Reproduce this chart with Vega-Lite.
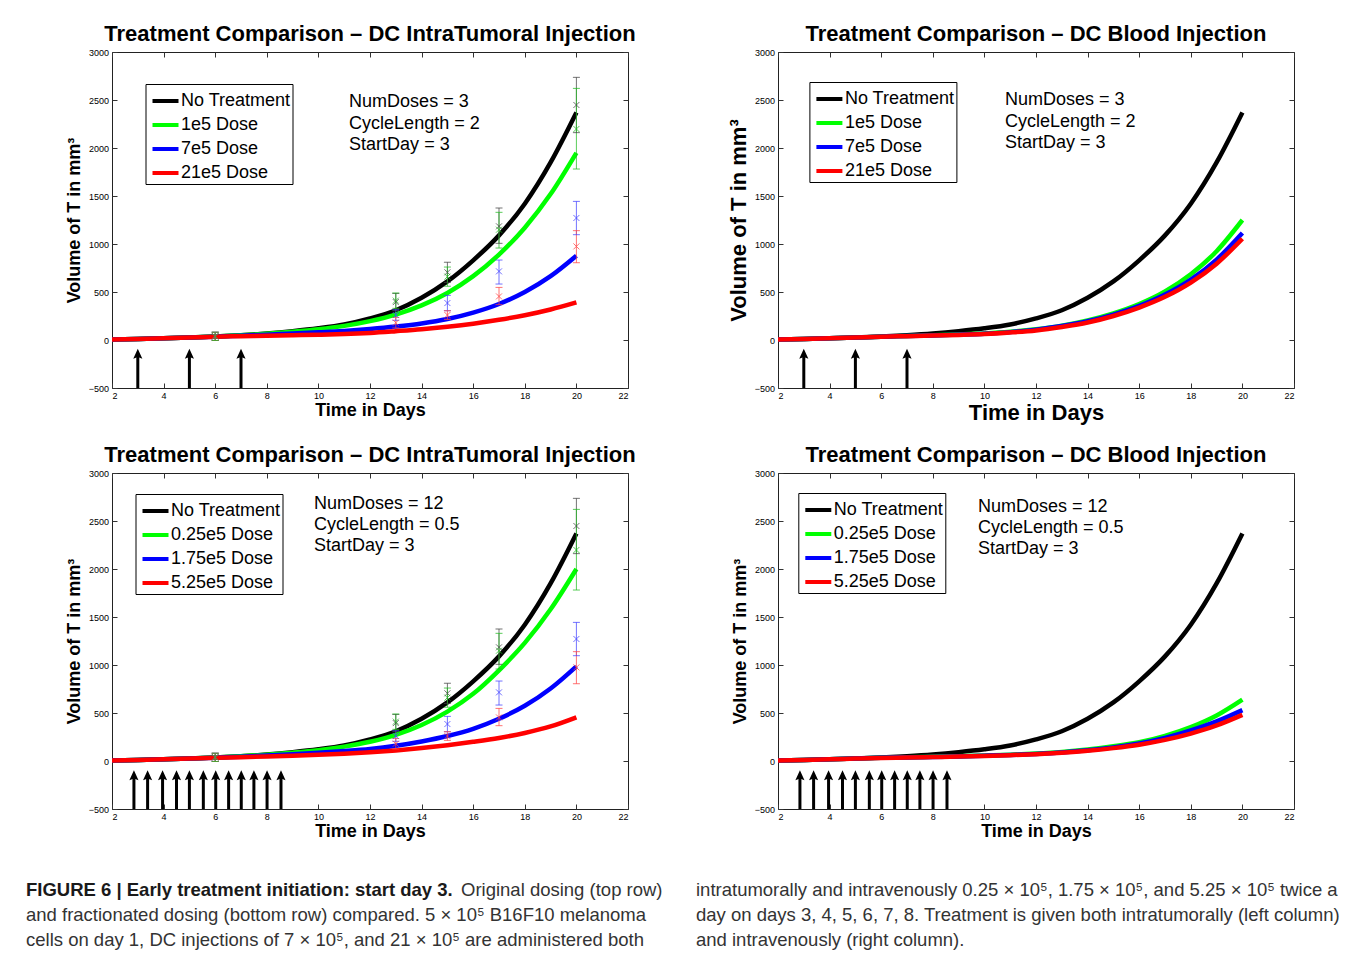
{
  "$schema": "https://vega.github.io/schema/vega-lite/v6.json",
  "background": "white",
  "autosize": {"type": "pad"},
  "padding": {"left": 26, "top": 22, "right": 0, "bottom": 0},
  "config": {
    "font": "Liberation Sans",
    "view": {"stroke": "#222222", "strokeWidth": 1},
    "axis": {"grid": false, "domain": false, "labelFont": "Liberation Sans", "labelFontSize": 9, "labelColor": "black", "tickColor": "#333333", "tickSize": -5, "labelPadding": 8.5, "titleFont": "Liberation Sans", "titleFontWeight": "bold", "titleColor": "black"},
    "title": {"font": "Liberation Sans", "fontSize": 22, "fontWeight": "bold", "color": "black", "anchor": "middle", "frame": "group", "offset": 2},
    "legend": {"labelFont": "Liberation Sans", "labelFontSize": 18, "labelColor": "black", "symbolType": "stroke", "symbolStrokeWidth": 4, "symbolSize": 676, "symbolOffset": 3, "labelOffset": 0.5, "padding": 2, "rowPadding": 0, "strokeColor": "black", "fillColor": "white", "orient": "none", "title": null}
  },
  "datasets": {
    "curves": [
      {"p":"TL","s":"No Treatment","d":2,"v":6},{"p":"TL","s":"No Treatment","d":3,"v":11},{"p":"TL","s":"No Treatment","d":4,"v":17},{"p":"TL","s":"No Treatment","d":5,"v":25},{"p":"TL","s":"No Treatment","d":6,"v":36},{"p":"TL","s":"No Treatment","d":7,"v":50},{"p":"TL","s":"No Treatment","d":8,"v":68},{"p":"TL","s":"No Treatment","d":9,"v":92},{"p":"TL","s":"No Treatment","d":10,"v":122},{"p":"TL","s":"No Treatment","d":11,"v":162},{"p":"TL","s":"No Treatment","d":12,"v":225},{"p":"TL","s":"No Treatment","d":13,"v":310},{"p":"TL","s":"No Treatment","d":14,"v":440},{"p":"TL","s":"No Treatment","d":15,"v":610},{"p":"TL","s":"No Treatment","d":16,"v":830},{"p":"TL","s":"No Treatment","d":17,"v":1090},{"p":"TL","s":"No Treatment","d":18,"v":1420},{"p":"TL","s":"No Treatment","d":19,"v":1850},{"p":"TL","s":"No Treatment","d":20,"v":2370},
      {"p":"TL","s":"1e5 Dose","d":2,"v":6},{"p":"TL","s":"1e5 Dose","d":3,"v":11},{"p":"TL","s":"1e5 Dose","d":4,"v":17},{"p":"TL","s":"1e5 Dose","d":5,"v":25},{"p":"TL","s":"1e5 Dose","d":6,"v":36},{"p":"TL","s":"1e5 Dose","d":7,"v":49},{"p":"TL","s":"1e5 Dose","d":8,"v":65},{"p":"TL","s":"1e5 Dose","d":9,"v":86},{"p":"TL","s":"1e5 Dose","d":10,"v":112},{"p":"TL","s":"1e5 Dose","d":11,"v":147},{"p":"TL","s":"1e5 Dose","d":12,"v":197},{"p":"TL","s":"1e5 Dose","d":13,"v":265},{"p":"TL","s":"1e5 Dose","d":14,"v":360},{"p":"TL","s":"1e5 Dose","d":15,"v":490},{"p":"TL","s":"1e5 Dose","d":16,"v":665},{"p":"TL","s":"1e5 Dose","d":17,"v":890},{"p":"TL","s":"1e5 Dose","d":18,"v":1170},{"p":"TL","s":"1e5 Dose","d":19,"v":1520},{"p":"TL","s":"1e5 Dose","d":20,"v":1950},
      {"p":"TL","s":"7e5 Dose","d":2,"v":6},{"p":"TL","s":"7e5 Dose","d":3,"v":11},{"p":"TL","s":"7e5 Dose","d":4,"v":17},{"p":"TL","s":"7e5 Dose","d":5,"v":25},{"p":"TL","s":"7e5 Dose","d":6,"v":35},{"p":"TL","s":"7e5 Dose","d":7,"v":45},{"p":"TL","s":"7e5 Dose","d":8,"v":56},{"p":"TL","s":"7e5 Dose","d":9,"v":67},{"p":"TL","s":"7e5 Dose","d":10,"v":80},{"p":"TL","s":"7e5 Dose","d":11,"v":95},{"p":"TL","s":"7e5 Dose","d":12,"v":115},{"p":"TL","s":"7e5 Dose","d":13,"v":140},{"p":"TL","s":"7e5 Dose","d":14,"v":172},{"p":"TL","s":"7e5 Dose","d":15,"v":218},{"p":"TL","s":"7e5 Dose","d":16,"v":285},{"p":"TL","s":"7e5 Dose","d":17,"v":375},{"p":"TL","s":"7e5 Dose","d":18,"v":500},{"p":"TL","s":"7e5 Dose","d":19,"v":665},{"p":"TL","s":"7e5 Dose","d":20,"v":878},
      {"p":"TL","s":"21e5 Dose","d":2,"v":6},{"p":"TL","s":"21e5 Dose","d":3,"v":11},{"p":"TL","s":"21e5 Dose","d":4,"v":17},{"p":"TL","s":"21e5 Dose","d":5,"v":25},{"p":"TL","s":"21e5 Dose","d":6,"v":35},{"p":"TL","s":"21e5 Dose","d":7,"v":40},{"p":"TL","s":"21e5 Dose","d":8,"v":45},{"p":"TL","s":"21e5 Dose","d":9,"v":50},{"p":"TL","s":"21e5 Dose","d":10,"v":55},{"p":"TL","s":"21e5 Dose","d":11,"v":62},{"p":"TL","s":"21e5 Dose","d":12,"v":74},{"p":"TL","s":"21e5 Dose","d":13,"v":92},{"p":"TL","s":"21e5 Dose","d":14,"v":112},{"p":"TL","s":"21e5 Dose","d":15,"v":138},{"p":"TL","s":"21e5 Dose","d":16,"v":170},{"p":"TL","s":"21e5 Dose","d":17,"v":210},{"p":"TL","s":"21e5 Dose","d":18,"v":258},{"p":"TL","s":"21e5 Dose","d":19,"v":318},{"p":"TL","s":"21e5 Dose","d":20,"v":392},
      {"p":"TR","s":"No Treatment","d":2,"v":6},{"p":"TR","s":"No Treatment","d":3,"v":11},{"p":"TR","s":"No Treatment","d":4,"v":17},{"p":"TR","s":"No Treatment","d":5,"v":25},{"p":"TR","s":"No Treatment","d":6,"v":36},{"p":"TR","s":"No Treatment","d":7,"v":50},{"p":"TR","s":"No Treatment","d":8,"v":68},{"p":"TR","s":"No Treatment","d":9,"v":92},{"p":"TR","s":"No Treatment","d":10,"v":122},{"p":"TR","s":"No Treatment","d":11,"v":162},{"p":"TR","s":"No Treatment","d":12,"v":225},{"p":"TR","s":"No Treatment","d":13,"v":310},{"p":"TR","s":"No Treatment","d":14,"v":440},{"p":"TR","s":"No Treatment","d":15,"v":610},{"p":"TR","s":"No Treatment","d":16,"v":830},{"p":"TR","s":"No Treatment","d":17,"v":1090},{"p":"TR","s":"No Treatment","d":18,"v":1420},{"p":"TR","s":"No Treatment","d":19,"v":1850},{"p":"TR","s":"No Treatment","d":20,"v":2370},
      {"p":"TR","s":"1e5 Dose","d":2,"v":6},{"p":"TR","s":"1e5 Dose","d":3,"v":11},{"p":"TR","s":"1e5 Dose","d":4,"v":17},{"p":"TR","s":"1e5 Dose","d":5,"v":25},{"p":"TR","s":"1e5 Dose","d":6,"v":35},{"p":"TR","s":"1e5 Dose","d":7,"v":42},{"p":"TR","s":"1e5 Dose","d":8,"v":50},{"p":"TR","s":"1e5 Dose","d":9,"v":58},{"p":"TR","s":"1e5 Dose","d":10,"v":68},{"p":"TR","s":"1e5 Dose","d":11,"v":85},{"p":"TR","s":"1e5 Dose","d":12,"v":112},{"p":"TR","s":"1e5 Dose","d":13,"v":150},{"p":"TR","s":"1e5 Dose","d":14,"v":205},{"p":"TR","s":"1e5 Dose","d":15,"v":278},{"p":"TR","s":"1e5 Dose","d":16,"v":375},{"p":"TR","s":"1e5 Dose","d":17,"v":506},{"p":"TR","s":"1e5 Dose","d":18,"v":685},{"p":"TR","s":"1e5 Dose","d":19,"v":925},{"p":"TR","s":"1e5 Dose","d":20,"v":1250},
      {"p":"TR","s":"7e5 Dose","d":2,"v":6},{"p":"TR","s":"7e5 Dose","d":3,"v":11},{"p":"TR","s":"7e5 Dose","d":4,"v":17},{"p":"TR","s":"7e5 Dose","d":5,"v":25},{"p":"TR","s":"7e5 Dose","d":6,"v":35},{"p":"TR","s":"7e5 Dose","d":7,"v":41},{"p":"TR","s":"7e5 Dose","d":8,"v":48},{"p":"TR","s":"7e5 Dose","d":9,"v":56},{"p":"TR","s":"7e5 Dose","d":10,"v":66},{"p":"TR","s":"7e5 Dose","d":11,"v":82},{"p":"TR","s":"7e5 Dose","d":12,"v":108},{"p":"TR","s":"7e5 Dose","d":13,"v":145},{"p":"TR","s":"7e5 Dose","d":14,"v":195},{"p":"TR","s":"7e5 Dose","d":15,"v":265},{"p":"TR","s":"7e5 Dose","d":16,"v":355},{"p":"TR","s":"7e5 Dose","d":17,"v":473},{"p":"TR","s":"7e5 Dose","d":18,"v":629},{"p":"TR","s":"7e5 Dose","d":19,"v":838},{"p":"TR","s":"7e5 Dose","d":20,"v":1115},
      {"p":"TR","s":"21e5 Dose","d":2,"v":6},{"p":"TR","s":"21e5 Dose","d":3,"v":11},{"p":"TR","s":"21e5 Dose","d":4,"v":17},{"p":"TR","s":"21e5 Dose","d":5,"v":25},{"p":"TR","s":"21e5 Dose","d":6,"v":34},{"p":"TR","s":"21e5 Dose","d":7,"v":40},{"p":"TR","s":"21e5 Dose","d":8,"v":46},{"p":"TR","s":"21e5 Dose","d":9,"v":53},{"p":"TR","s":"21e5 Dose","d":10,"v":62},{"p":"TR","s":"21e5 Dose","d":11,"v":78},{"p":"TR","s":"21e5 Dose","d":12,"v":100},{"p":"TR","s":"21e5 Dose","d":13,"v":136},{"p":"TR","s":"21e5 Dose","d":14,"v":182},{"p":"TR","s":"21e5 Dose","d":15,"v":250},{"p":"TR","s":"21e5 Dose","d":16,"v":338},{"p":"TR","s":"21e5 Dose","d":17,"v":450},{"p":"TR","s":"21e5 Dose","d":18,"v":598},{"p":"TR","s":"21e5 Dose","d":19,"v":795},{"p":"TR","s":"21e5 Dose","d":20,"v":1055},
      {"p":"BL","s":"No Treatment","d":2,"v":6},{"p":"BL","s":"No Treatment","d":3,"v":11},{"p":"BL","s":"No Treatment","d":4,"v":17},{"p":"BL","s":"No Treatment","d":5,"v":25},{"p":"BL","s":"No Treatment","d":6,"v":36},{"p":"BL","s":"No Treatment","d":7,"v":50},{"p":"BL","s":"No Treatment","d":8,"v":68},{"p":"BL","s":"No Treatment","d":9,"v":92},{"p":"BL","s":"No Treatment","d":10,"v":122},{"p":"BL","s":"No Treatment","d":11,"v":162},{"p":"BL","s":"No Treatment","d":12,"v":225},{"p":"BL","s":"No Treatment","d":13,"v":310},{"p":"BL","s":"No Treatment","d":14,"v":440},{"p":"BL","s":"No Treatment","d":15,"v":610},{"p":"BL","s":"No Treatment","d":16,"v":830},{"p":"BL","s":"No Treatment","d":17,"v":1090},{"p":"BL","s":"No Treatment","d":18,"v":1420},{"p":"BL","s":"No Treatment","d":19,"v":1850},{"p":"BL","s":"No Treatment","d":20,"v":2370},
      {"p":"BL","s":"0.25e5 Dose","d":2,"v":6},{"p":"BL","s":"0.25e5 Dose","d":3,"v":11},{"p":"BL","s":"0.25e5 Dose","d":4,"v":17},{"p":"BL","s":"0.25e5 Dose","d":5,"v":25},{"p":"BL","s":"0.25e5 Dose","d":6,"v":36},{"p":"BL","s":"0.25e5 Dose","d":7,"v":50},{"p":"BL","s":"0.25e5 Dose","d":8,"v":66},{"p":"BL","s":"0.25e5 Dose","d":9,"v":87},{"p":"BL","s":"0.25e5 Dose","d":10,"v":113},{"p":"BL","s":"0.25e5 Dose","d":11,"v":150},{"p":"BL","s":"0.25e5 Dose","d":12,"v":200},{"p":"BL","s":"0.25e5 Dose","d":13,"v":272},{"p":"BL","s":"0.25e5 Dose","d":14,"v":375},{"p":"BL","s":"0.25e5 Dose","d":15,"v":515},{"p":"BL","s":"0.25e5 Dose","d":16,"v":700},{"p":"BL","s":"0.25e5 Dose","d":17,"v":945},{"p":"BL","s":"0.25e5 Dose","d":18,"v":1230},{"p":"BL","s":"0.25e5 Dose","d":19,"v":1580},{"p":"BL","s":"0.25e5 Dose","d":20,"v":2000},
      {"p":"BL","s":"1.75e5 Dose","d":2,"v":6},{"p":"BL","s":"1.75e5 Dose","d":3,"v":11},{"p":"BL","s":"1.75e5 Dose","d":4,"v":17},{"p":"BL","s":"1.75e5 Dose","d":5,"v":25},{"p":"BL","s":"1.75e5 Dose","d":6,"v":35},{"p":"BL","s":"1.75e5 Dose","d":7,"v":45},{"p":"BL","s":"1.75e5 Dose","d":8,"v":57},{"p":"BL","s":"1.75e5 Dose","d":9,"v":70},{"p":"BL","s":"1.75e5 Dose","d":10,"v":85},{"p":"BL","s":"1.75e5 Dose","d":11,"v":103},{"p":"BL","s":"1.75e5 Dose","d":12,"v":125},{"p":"BL","s":"1.75e5 Dose","d":13,"v":158},{"p":"BL","s":"1.75e5 Dose","d":14,"v":203},{"p":"BL","s":"1.75e5 Dose","d":15,"v":260},{"p":"BL","s":"1.75e5 Dose","d":16,"v":335},{"p":"BL","s":"1.75e5 Dose","d":17,"v":440},{"p":"BL","s":"1.75e5 Dose","d":18,"v":575},{"p":"BL","s":"1.75e5 Dose","d":19,"v":755},{"p":"BL","s":"1.75e5 Dose","d":20,"v":986},
      {"p":"BL","s":"5.25e5 Dose","d":2,"v":6},{"p":"BL","s":"5.25e5 Dose","d":3,"v":11},{"p":"BL","s":"5.25e5 Dose","d":4,"v":17},{"p":"BL","s":"5.25e5 Dose","d":5,"v":25},{"p":"BL","s":"5.25e5 Dose","d":6,"v":34},{"p":"BL","s":"5.25e5 Dose","d":7,"v":40},{"p":"BL","s":"5.25e5 Dose","d":8,"v":47},{"p":"BL","s":"5.25e5 Dose","d":9,"v":55},{"p":"BL","s":"5.25e5 Dose","d":10,"v":64},{"p":"BL","s":"5.25e5 Dose","d":11,"v":75},{"p":"BL","s":"5.25e5 Dose","d":12,"v":90},{"p":"BL","s":"5.25e5 Dose","d":13,"v":110},{"p":"BL","s":"5.25e5 Dose","d":14,"v":135},{"p":"BL","s":"5.25e5 Dose","d":15,"v":165},{"p":"BL","s":"5.25e5 Dose","d":16,"v":200},{"p":"BL","s":"5.25e5 Dose","d":17,"v":240},{"p":"BL","s":"5.25e5 Dose","d":18,"v":292},{"p":"BL","s":"5.25e5 Dose","d":19,"v":360},{"p":"BL","s":"5.25e5 Dose","d":20,"v":455},
      {"p":"BR","s":"No Treatment","d":2,"v":6},{"p":"BR","s":"No Treatment","d":3,"v":11},{"p":"BR","s":"No Treatment","d":4,"v":17},{"p":"BR","s":"No Treatment","d":5,"v":25},{"p":"BR","s":"No Treatment","d":6,"v":36},{"p":"BR","s":"No Treatment","d":7,"v":50},{"p":"BR","s":"No Treatment","d":8,"v":68},{"p":"BR","s":"No Treatment","d":9,"v":92},{"p":"BR","s":"No Treatment","d":10,"v":122},{"p":"BR","s":"No Treatment","d":11,"v":162},{"p":"BR","s":"No Treatment","d":12,"v":225},{"p":"BR","s":"No Treatment","d":13,"v":310},{"p":"BR","s":"No Treatment","d":14,"v":440},{"p":"BR","s":"No Treatment","d":15,"v":610},{"p":"BR","s":"No Treatment","d":16,"v":830},{"p":"BR","s":"No Treatment","d":17,"v":1090},{"p":"BR","s":"No Treatment","d":18,"v":1420},{"p":"BR","s":"No Treatment","d":19,"v":1850},{"p":"BR","s":"No Treatment","d":20,"v":2370},
      {"p":"BR","s":"0.25e5 Dose","d":2,"v":6},{"p":"BR","s":"0.25e5 Dose","d":3,"v":11},{"p":"BR","s":"0.25e5 Dose","d":4,"v":17},{"p":"BR","s":"0.25e5 Dose","d":5,"v":25},{"p":"BR","s":"0.25e5 Dose","d":6,"v":33},{"p":"BR","s":"0.25e5 Dose","d":7,"v":38},{"p":"BR","s":"0.25e5 Dose","d":8,"v":44},{"p":"BR","s":"0.25e5 Dose","d":9,"v":50},{"p":"BR","s":"0.25e5 Dose","d":10,"v":57},{"p":"BR","s":"0.25e5 Dose","d":11,"v":66},{"p":"BR","s":"0.25e5 Dose","d":12,"v":78},{"p":"BR","s":"0.25e5 Dose","d":13,"v":95},{"p":"BR","s":"0.25e5 Dose","d":14,"v":120},{"p":"BR","s":"0.25e5 Dose","d":15,"v":153},{"p":"BR","s":"0.25e5 Dose","d":16,"v":195},{"p":"BR","s":"0.25e5 Dose","d":17,"v":262},{"p":"BR","s":"0.25e5 Dose","d":18,"v":353},{"p":"BR","s":"0.25e5 Dose","d":19,"v":475},{"p":"BR","s":"0.25e5 Dose","d":20,"v":640},
      {"p":"BR","s":"1.75e5 Dose","d":2,"v":6},{"p":"BR","s":"1.75e5 Dose","d":3,"v":11},{"p":"BR","s":"1.75e5 Dose","d":4,"v":17},{"p":"BR","s":"1.75e5 Dose","d":5,"v":25},{"p":"BR","s":"1.75e5 Dose","d":6,"v":33},{"p":"BR","s":"1.75e5 Dose","d":7,"v":37},{"p":"BR","s":"1.75e5 Dose","d":8,"v":42},{"p":"BR","s":"1.75e5 Dose","d":9,"v":48},{"p":"BR","s":"1.75e5 Dose","d":10,"v":55},{"p":"BR","s":"1.75e5 Dose","d":11,"v":63},{"p":"BR","s":"1.75e5 Dose","d":12,"v":74},{"p":"BR","s":"1.75e5 Dose","d":13,"v":89},{"p":"BR","s":"1.75e5 Dose","d":14,"v":111},{"p":"BR","s":"1.75e5 Dose","d":15,"v":142},{"p":"BR","s":"1.75e5 Dose","d":16,"v":182},{"p":"BR","s":"1.75e5 Dose","d":17,"v":240},{"p":"BR","s":"1.75e5 Dose","d":18,"v":318},{"p":"BR","s":"1.75e5 Dose","d":19,"v":412},{"p":"BR","s":"1.75e5 Dose","d":20,"v":530},
      {"p":"BR","s":"5.25e5 Dose","d":2,"v":6},{"p":"BR","s":"5.25e5 Dose","d":3,"v":11},{"p":"BR","s":"5.25e5 Dose","d":4,"v":17},{"p":"BR","s":"5.25e5 Dose","d":5,"v":25},{"p":"BR","s":"5.25e5 Dose","d":6,"v":32},{"p":"BR","s":"5.25e5 Dose","d":7,"v":36},{"p":"BR","s":"5.25e5 Dose","d":8,"v":41},{"p":"BR","s":"5.25e5 Dose","d":9,"v":46},{"p":"BR","s":"5.25e5 Dose","d":10,"v":53},{"p":"BR","s":"5.25e5 Dose","d":11,"v":61},{"p":"BR","s":"5.25e5 Dose","d":12,"v":71},{"p":"BR","s":"5.25e5 Dose","d":13,"v":86},{"p":"BR","s":"5.25e5 Dose","d":14,"v":106},{"p":"BR","s":"5.25e5 Dose","d":15,"v":134},{"p":"BR","s":"5.25e5 Dose","d":16,"v":170},{"p":"BR","s":"5.25e5 Dose","d":17,"v":220},{"p":"BR","s":"5.25e5 Dose","d":18,"v":286},{"p":"BR","s":"5.25e5 Dose","d":19,"v":370},{"p":"BR","s":"5.25e5 Dose","d":20,"v":480}
    ],
    "obs": [
      {"s":"No Treatment","d":6,"v":38,"lo":-5,"hi":81},{"s":"7e5 Dose","d":6,"v":38,"lo":-5,"hi":81},{"s":"21e5 Dose","d":6,"v":38,"lo":-5,"hi":81},{"s":"1e5 Dose","d":6,"v":38,"lo":-5,"hi":81},
      {"s":"No Treatment","d":13,"v":395,"lo":305,"hi":485},{"s":"7e5 Dose","d":13,"v":260,"lo":205,"hi":315},{"s":"21e5 Dose","d":13,"v":180,"lo":125,"hi":235},{"s":"1e5 Dose","d":13,"v":410,"lo":330,"hi":490},
      {"s":"No Treatment","d":15,"v":705,"lo":600,"hi":810},{"s":"7e5 Dose","d":15,"v":385,"lo":305,"hi":465},{"s":"21e5 Dose","d":15,"v":260,"lo":215,"hi":305},{"s":"1e5 Dose","d":15,"v":660,"lo":560,"hi":760},
      {"s":"No Treatment","d":17,"v":1184,"lo":1007,"hi":1375},{"s":"7e5 Dose","d":17,"v":715,"lo":583,"hi":833},{"s":"21e5 Dose","d":17,"v":454,"lo":368,"hi":548},{"s":"1e5 Dose","d":17,"v":1149,"lo":958,"hi":1330},
      {"s":"No Treatment","d":20,"v":2448,"lo":2160,"hi":2736},{"s":"7e5 Dose","d":20,"v":1271,"lo":1097,"hi":1444},{"s":"21e5 Dose","d":20,"v":975,"lo":805,"hi":1139},{"s":"1e5 Dose","d":20,"v":2198,"lo":1781,"hi":2621}
    ],
    "arrows": [
      {"g":"top","d":3},{"g":"top","d":5},{"g":"top","d":7},
      {"g":"bottom","d":2.85},{"g":"bottom","d":3.38},{"g":"bottom","d":3.96},{"g":"bottom","d":4.5},{"g":"bottom","d":5.0},{"g":"bottom","d":5.54},{"g":"bottom","d":6.02},{"g":"bottom","d":6.52},{"g":"bottom","d":7.01},{"g":"bottom","d":7.5},{"g":"bottom","d":8.01},{"g":"bottom","d":8.55}
    ],
    "notes": [
      {"p":"TL","d":11.19,"v":2477,"t":["NumDoses = 3","CycleLength = 2","StartDay = 3"]},
      {"p":"TR","d":10.8,"v":2495,"t":["NumDoses = 3","CycleLength = 2","StartDay = 3"]},
      {"p":"BL","d":9.83,"v":2679,"t":["NumDoses = 12","CycleLength = 0.5","StartDay = 3"]},
      {"p":"BR","d":9.75,"v":2651,"t":["NumDoses = 12","CycleLength = 0.5","StartDay = 3"]}
    ],
    "caption": [
      {"c":0,"l":0,"w":"b","t":"FIGURE 6 | Early treatment initiation: start day 3."},
      {"c":0,"l":0,"w":"c","t":"Original dosing (top row)"},
      {"c":0,"l":1,"w":"r","t":"and fractionated dosing (bottom row) compared. 5 × 10⁵ B16F10 melanoma"},
      {"c":0,"l":2,"w":"r","t":"cells on day 1, DC injections of 7 × 10⁵, and 21 × 10⁵ are administered both"},
      {"c":1,"l":0,"w":"r","t":"intratumorally and intravenously 0.25 × 10⁵, 1.75 × 10⁵, and 5.25 × 10⁵ twice a"},
      {"c":1,"l":1,"w":"r","t":"day on days 3, 4, 5, 6, 7, 8. Treatment is given both intratumorally (left column)"},
      {"c":1,"l":2,"w":"r","t":"and intravenously (right column)."}
    ]
  },
  "columns": 2,
  "spacing": {"row": 85, "column": 150},
  "bounds": "flush",
  "resolve": {"scale": {"color": "independent"}, "legend": {"color": "independent"}},
  "concat": [
    {
      "width": 516, "height": 336,
      "title": {"text": "Treatment Comparison – DC IntraTumoral Injection"},
      "resolve": {"axis": {"x": "independent", "y": "independent"}},
      "layer": [
        {
          "data": {"name": "curves"},
          "transform": [{"filter": "datum.p == 'TL'"}],
          "mark": {"type": "line", "strokeWidth": 4.5, "interpolate": "monotone"},
          "encoding": {
            "x": {"field": "d", "type": "quantitative", "scale": {"domain": [2, 22], "nice": false, "zero": false}, "axis": {"orient": "bottom", "values": [2,4,6,8,10,12,14,16,18,20,22], "format": "d", "title": "Time in Days", "titleFontSize": 18, "titleX": 258, "titleY": 22, "titleBaseline": "middle", "titleAlign": "center"}},
            "y": {"field": "v", "type": "quantitative", "scale": {"domain": [-500, 3000], "nice": false, "zero": false}, "axis": {"orient": "left", "values": [-500,0,500,1000,1500,2000,2500,3000], "format": "d", "title": "Volume of T in mm³", "titleFontSize": 18, "titleX": -38, "titleY": 168, "titleAngle": -90, "titleAlign": "center", "titleBaseline": "middle"}},
            "color": {"field": "s", "type": "nominal", "sort": null, "scale": {"domain": ["No Treatment", "1e5 Dose", "7e5 Dose", "21e5 Dose"], "range": ["#000000", "#00ff00", "#0000ff", "#ff0000"]}, "legend": {"legendX": 33.5, "legendY": 32}}
          }
        },
        {
          "data": {"name": "obs"},
          "mark": {"type": "rule", "strokeWidth": 1, "opacity": 0.75},
          "encoding": {
            "x": {"field": "d", "type": "quantitative", "scale": {"domain": [2, 22], "nice": false, "zero": false}, "axis": null},
            "y": {"field": "lo", "type": "quantitative", "scale": {"domain": [-500, 3000], "nice": false, "zero": false}, "axis": null},
            "y2": {"field": "hi"},
            "stroke": {"field": "s", "type": "nominal", "scale": {"domain": ["No Treatment", "1e5 Dose", "7e5 Dose", "21e5 Dose"], "range": ["#444444", "#22bb22", "#4444ff", "#ff4444"]}, "legend": null}
          }
        },
        {
          "data": {"name": "obs"},
          "mark": {"type": "tick", "orient": "horizontal", "size": 7, "thickness": 1, "opacity": 0.75},
          "encoding": {
            "x": {"field": "d", "type": "quantitative", "scale": {"domain": [2, 22], "nice": false, "zero": false}, "axis": null},
            "y": {"field": "lo", "type": "quantitative", "scale": {"domain": [-500, 3000], "nice": false, "zero": false}, "axis": null},
            "fill": {"field": "s", "type": "nominal", "scale": {"domain": ["No Treatment", "1e5 Dose", "7e5 Dose", "21e5 Dose"], "range": ["#444444", "#22bb22", "#4444ff", "#ff4444"]}, "legend": null}
          }
        },
        {
          "data": {"name": "obs"},
          "mark": {"type": "tick", "orient": "horizontal", "size": 7, "thickness": 1, "opacity": 0.75},
          "encoding": {
            "x": {"field": "d", "type": "quantitative", "scale": {"domain": [2, 22], "nice": false, "zero": false}, "axis": null},
            "y": {"field": "hi", "type": "quantitative", "scale": {"domain": [-500, 3000], "nice": false, "zero": false}, "axis": null},
            "fill": {"field": "s", "type": "nominal", "scale": {"domain": ["No Treatment", "1e5 Dose", "7e5 Dose", "21e5 Dose"], "range": ["#444444", "#22bb22", "#4444ff", "#ff4444"]}, "legend": null}
          }
        },
        {
          "data": {"name": "obs"},
          "mark": {"type": "point", "shape": "M-1,-1L1,1M-1,1L1,-1", "filled": false, "size": 36, "strokeWidth": 1, "opacity": 0.75},
          "encoding": {
            "x": {"field": "d", "type": "quantitative", "scale": {"domain": [2, 22], "nice": false, "zero": false}, "axis": null},
            "y": {"field": "v", "type": "quantitative", "scale": {"domain": [-500, 3000], "nice": false, "zero": false}, "axis": null},
            "stroke": {"field": "s", "type": "nominal", "scale": {"domain": ["No Treatment", "1e5 Dose", "7e5 Dose", "21e5 Dose"], "range": ["#444444", "#22bb22", "#4444ff", "#ff4444"]}, "legend": null}
          }
        },
        {
          "data": {"name": "arrows"},
          "transform": [{"filter": "datum.g == 'top'"}],
          "mark": {"type": "rule", "strokeWidth": 3, "color": "black"},
          "encoding": {
            "x": {"field": "d", "type": "quantitative", "scale": {"domain": [2, 22], "nice": false, "zero": false}, "axis": null},
            "y": {"datum": -500, "type": "quantitative", "scale": {"domain": [-500, 3000], "nice": false, "zero": false}, "axis": null},
            "y2": {"datum": -155}
          }
        },
        {
          "data": {"name": "arrows"},
          "transform": [{"filter": "datum.g == 'top'"}],
          "mark": {"type": "point", "shape": "M0,-1L0.65,0.45L0,0.2L-0.65,0.45Z", "filled": true, "size": 196, "color": "black", "opacity": 1},
          "encoding": {
            "x": {"field": "d", "type": "quantitative", "scale": {"domain": [2, 22], "nice": false, "zero": false}, "axis": null},
            "y": {"datum": -163, "type": "quantitative", "scale": {"domain": [-500, 3000], "nice": false, "zero": false}, "axis": null}
          }
        },
        {
          "data": {"name": "notes"},
          "transform": [{"filter": "datum.p == 'TL'"}],
          "mark": {"type": "text", "align": "left", "baseline": "middle", "fontSize": 18, "lineHeight": 21.3, "color": "black"},
          "encoding": {
            "x": {"field": "d", "type": "quantitative", "scale": {"domain": [2, 22], "nice": false, "zero": false}, "axis": {"orient": "top", "values": [2,4,6,8,10,12,14,16,18,20,22], "labels": false, "title": null}},
            "y": {"field": "v", "type": "quantitative", "scale": {"domain": [-500, 3000], "nice": false, "zero": false}, "axis": {"orient": "right", "values": [-500,0,500,1000,1500,2000,2500,3000], "labels": false, "title": null}},
            "text": {"field": "t"}
          }
        }
      ]
    },
    {
      "width": 516, "height": 336,
      "title": {"text": "Treatment Comparison – DC Blood Injection"},
      "resolve": {"axis": {"x": "independent", "y": "independent"}},
      "layer": [
        {
          "data": {"name": "curves"},
          "transform": [{"filter": "datum.p == 'TR'"}],
          "mark": {"type": "line", "strokeWidth": 4.5, "interpolate": "monotone"},
          "encoding": {
            "x": {"field": "d", "type": "quantitative", "scale": {"domain": [2, 22], "nice": false, "zero": false}, "axis": {"orient": "bottom", "values": [2,4,6,8,10,12,14,16,18,20,22], "format": "d", "title": "Time in Days", "titleFontSize": 22, "titleX": 258, "titleY": 24, "titleBaseline": "middle", "titleAlign": "center"}},
            "y": {"field": "v", "type": "quantitative", "scale": {"domain": [-500, 3000], "nice": false, "zero": false}, "axis": {"orient": "left", "values": [-500,0,500,1000,1500,2000,2500,3000], "format": "d", "title": "Volume of T in mm³", "titleFontSize": 22, "titleX": -40, "titleY": 168, "titleAngle": -90, "titleAlign": "center", "titleBaseline": "middle"}},
            "color": {"field": "s", "type": "nominal", "sort": null, "scale": {"domain": ["No Treatment", "1e5 Dose", "7e5 Dose", "21e5 Dose"], "range": ["#000000", "#00ff00", "#0000ff", "#ff0000"]}, "legend": {"legendX": 31.4, "legendY": 30}}
          }
        },
        {
          "data": {"name": "arrows"},
          "transform": [{"filter": "datum.g == 'top'"}],
          "mark": {"type": "rule", "strokeWidth": 3, "color": "black"},
          "encoding": {
            "x": {"field": "d", "type": "quantitative", "scale": {"domain": [2, 22], "nice": false, "zero": false}, "axis": null},
            "y": {"datum": -500, "type": "quantitative", "scale": {"domain": [-500, 3000], "nice": false, "zero": false}, "axis": null},
            "y2": {"datum": -155}
          }
        },
        {
          "data": {"name": "arrows"},
          "transform": [{"filter": "datum.g == 'top'"}],
          "mark": {"type": "point", "shape": "M0,-1L0.65,0.45L0,0.2L-0.65,0.45Z", "filled": true, "size": 196, "color": "black", "opacity": 1},
          "encoding": {
            "x": {"field": "d", "type": "quantitative", "scale": {"domain": [2, 22], "nice": false, "zero": false}, "axis": null},
            "y": {"datum": -163, "type": "quantitative", "scale": {"domain": [-500, 3000], "nice": false, "zero": false}, "axis": null}
          }
        },
        {
          "data": {"name": "notes"},
          "transform": [{"filter": "datum.p == 'TR'"}],
          "mark": {"type": "text", "align": "left", "baseline": "middle", "fontSize": 18, "lineHeight": 21.3, "color": "black"},
          "encoding": {
            "x": {"field": "d", "type": "quantitative", "scale": {"domain": [2, 22], "nice": false, "zero": false}, "axis": {"orient": "top", "values": [2,4,6,8,10,12,14,16,18,20,22], "labels": false, "title": null}},
            "y": {"field": "v", "type": "quantitative", "scale": {"domain": [-500, 3000], "nice": false, "zero": false}, "axis": {"orient": "right", "values": [-500,0,500,1000,1500,2000,2500,3000], "labels": false, "title": null}},
            "text": {"field": "t"}
          }
        }
      ]
    },
    {
      "width": 516, "height": 336,
      "title": {"text": "Treatment Comparison – DC IntraTumoral Injection"},
      "resolve": {"axis": {"x": "independent", "y": "independent"}},
      "layer": [
        {
          "data": {"name": "curves"},
          "transform": [{"filter": "datum.p == 'BL'"}],
          "mark": {"type": "line", "strokeWidth": 4.5, "interpolate": "monotone"},
          "encoding": {
            "x": {"field": "d", "type": "quantitative", "scale": {"domain": [2, 22], "nice": false, "zero": false}, "axis": {"orient": "bottom", "values": [2,4,6,8,10,12,14,16,18,20,22], "format": "d", "title": "Time in Days", "titleFontSize": 18, "titleX": 258, "titleY": 22, "titleBaseline": "middle", "titleAlign": "center"}},
            "y": {"field": "v", "type": "quantitative", "scale": {"domain": [-500, 3000], "nice": false, "zero": false}, "axis": {"orient": "left", "values": [-500,0,500,1000,1500,2000,2500,3000], "format": "d", "title": "Volume of T in mm³", "titleFontSize": 18, "titleX": -38, "titleY": 168, "titleAngle": -90, "titleAlign": "center", "titleBaseline": "middle"}},
            "color": {"field": "s", "type": "nominal", "sort": null, "scale": {"domain": ["No Treatment", "0.25e5 Dose", "1.75e5 Dose", "5.25e5 Dose"], "range": ["#000000", "#00ff00", "#0000ff", "#ff0000"]}, "legend": {"legendX": 23.5, "legendY": 21}}
          }
        },
        {
          "data": {"name": "obs"},
          "mark": {"type": "rule", "strokeWidth": 1, "opacity": 0.75},
          "encoding": {
            "x": {"field": "d", "type": "quantitative", "scale": {"domain": [2, 22], "nice": false, "zero": false}, "axis": null},
            "y": {"field": "lo", "type": "quantitative", "scale": {"domain": [-500, 3000], "nice": false, "zero": false}, "axis": null},
            "y2": {"field": "hi"},
            "stroke": {"field": "s", "type": "nominal", "scale": {"domain": ["No Treatment", "1e5 Dose", "7e5 Dose", "21e5 Dose"], "range": ["#444444", "#22bb22", "#4444ff", "#ff4444"]}, "legend": null}
          }
        },
        {
          "data": {"name": "obs"},
          "mark": {"type": "tick", "orient": "horizontal", "size": 7, "thickness": 1, "opacity": 0.75},
          "encoding": {
            "x": {"field": "d", "type": "quantitative", "scale": {"domain": [2, 22], "nice": false, "zero": false}, "axis": null},
            "y": {"field": "lo", "type": "quantitative", "scale": {"domain": [-500, 3000], "nice": false, "zero": false}, "axis": null},
            "fill": {"field": "s", "type": "nominal", "scale": {"domain": ["No Treatment", "1e5 Dose", "7e5 Dose", "21e5 Dose"], "range": ["#444444", "#22bb22", "#4444ff", "#ff4444"]}, "legend": null}
          }
        },
        {
          "data": {"name": "obs"},
          "mark": {"type": "tick", "orient": "horizontal", "size": 7, "thickness": 1, "opacity": 0.75},
          "encoding": {
            "x": {"field": "d", "type": "quantitative", "scale": {"domain": [2, 22], "nice": false, "zero": false}, "axis": null},
            "y": {"field": "hi", "type": "quantitative", "scale": {"domain": [-500, 3000], "nice": false, "zero": false}, "axis": null},
            "fill": {"field": "s", "type": "nominal", "scale": {"domain": ["No Treatment", "1e5 Dose", "7e5 Dose", "21e5 Dose"], "range": ["#444444", "#22bb22", "#4444ff", "#ff4444"]}, "legend": null}
          }
        },
        {
          "data": {"name": "obs"},
          "mark": {"type": "point", "shape": "M-1,-1L1,1M-1,1L1,-1", "filled": false, "size": 36, "strokeWidth": 1, "opacity": 0.75},
          "encoding": {
            "x": {"field": "d", "type": "quantitative", "scale": {"domain": [2, 22], "nice": false, "zero": false}, "axis": null},
            "y": {"field": "v", "type": "quantitative", "scale": {"domain": [-500, 3000], "nice": false, "zero": false}, "axis": null},
            "stroke": {"field": "s", "type": "nominal", "scale": {"domain": ["No Treatment", "1e5 Dose", "7e5 Dose", "21e5 Dose"], "range": ["#444444", "#22bb22", "#4444ff", "#ff4444"]}, "legend": null}
          }
        },
        {
          "data": {"name": "arrows"},
          "transform": [{"filter": "datum.g == 'bottom'"}],
          "mark": {"type": "rule", "strokeWidth": 3, "color": "black"},
          "encoding": {
            "x": {"field": "d", "type": "quantitative", "scale": {"domain": [2, 22], "nice": false, "zero": false}, "axis": null},
            "y": {"datum": -500, "type": "quantitative", "scale": {"domain": [-500, 3000], "nice": false, "zero": false}, "axis": null},
            "y2": {"datum": -160}
          }
        },
        {
          "data": {"name": "arrows"},
          "transform": [{"filter": "datum.g == 'bottom'"}],
          "mark": {"type": "point", "shape": "M0,-1L0.65,0.45L0,0.2L-0.65,0.45Z", "filled": true, "size": 196, "color": "black", "opacity": 1},
          "encoding": {
            "x": {"field": "d", "type": "quantitative", "scale": {"domain": [2, 22], "nice": false, "zero": false}, "axis": null},
            "y": {"datum": -168, "type": "quantitative", "scale": {"domain": [-500, 3000], "nice": false, "zero": false}, "axis": null}
          }
        },
        {
          "data": {"name": "notes"},
          "transform": [{"filter": "datum.p == 'BL'"}],
          "mark": {"type": "text", "align": "left", "baseline": "middle", "fontSize": 18, "lineHeight": 21.3, "color": "black"},
          "encoding": {
            "x": {"field": "d", "type": "quantitative", "scale": {"domain": [2, 22], "nice": false, "zero": false}, "axis": {"orient": "top", "values": [2,4,6,8,10,12,14,16,18,20,22], "labels": false, "title": null}},
            "y": {"field": "v", "type": "quantitative", "scale": {"domain": [-500, 3000], "nice": false, "zero": false}, "axis": {"orient": "right", "values": [-500,0,500,1000,1500,2000,2500,3000], "labels": false, "title": null}},
            "text": {"field": "t"}
          }
        }
      ]
    },
    {
      "width": 516, "height": 336,
      "title": {"text": "Treatment Comparison – DC Blood Injection"},
      "resolve": {"axis": {"x": "independent", "y": "independent"}},
      "layer": [
        {
          "data": {"name": "curves"},
          "transform": [{"filter": "datum.p == 'BR'"}],
          "mark": {"type": "line", "strokeWidth": 4.5, "interpolate": "monotone"},
          "encoding": {
            "x": {"field": "d", "type": "quantitative", "scale": {"domain": [2, 22], "nice": false, "zero": false}, "axis": {"orient": "bottom", "values": [2,4,6,8,10,12,14,16,18,20,22], "format": "d", "title": "Time in Days", "titleFontSize": 18, "titleX": 258, "titleY": 22, "titleBaseline": "middle", "titleAlign": "center"}},
            "y": {"field": "v", "type": "quantitative", "scale": {"domain": [-500, 3000], "nice": false, "zero": false}, "axis": {"orient": "left", "values": [-500,0,500,1000,1500,2000,2500,3000], "format": "d", "title": "Volume of T in mm³", "titleFontSize": 18, "titleX": -38, "titleY": 168, "titleAngle": -90, "titleAlign": "center", "titleBaseline": "middle"}},
            "color": {"field": "s", "type": "nominal", "sort": null, "scale": {"domain": ["No Treatment", "0.25e5 Dose", "1.75e5 Dose", "5.25e5 Dose"], "range": ["#000000", "#00ff00", "#0000ff", "#ff0000"]}, "legend": {"legendX": 20.3, "legendY": 20}}
          }
        },
        {
          "data": {"name": "arrows"},
          "transform": [{"filter": "datum.g == 'bottom'"}],
          "mark": {"type": "rule", "strokeWidth": 3, "color": "black"},
          "encoding": {
            "x": {"field": "d", "type": "quantitative", "scale": {"domain": [2, 22], "nice": false, "zero": false}, "axis": null},
            "y": {"datum": -500, "type": "quantitative", "scale": {"domain": [-500, 3000], "nice": false, "zero": false}, "axis": null},
            "y2": {"datum": -160}
          }
        },
        {
          "data": {"name": "arrows"},
          "transform": [{"filter": "datum.g == 'bottom'"}],
          "mark": {"type": "point", "shape": "M0,-1L0.65,0.45L0,0.2L-0.65,0.45Z", "filled": true, "size": 196, "color": "black", "opacity": 1},
          "encoding": {
            "x": {"field": "d", "type": "quantitative", "scale": {"domain": [2, 22], "nice": false, "zero": false}, "axis": null},
            "y": {"datum": -168, "type": "quantitative", "scale": {"domain": [-500, 3000], "nice": false, "zero": false}, "axis": null}
          }
        },
        {
          "data": {"name": "notes"},
          "transform": [{"filter": "datum.p == 'BR'"}],
          "mark": {"type": "text", "align": "left", "baseline": "middle", "fontSize": 18, "lineHeight": 21.3, "color": "black"},
          "encoding": {
            "x": {"field": "d", "type": "quantitative", "scale": {"domain": [2, 22], "nice": false, "zero": false}, "axis": {"orient": "top", "values": [2,4,6,8,10,12,14,16,18,20,22], "labels": false, "title": null}},
            "y": {"field": "v", "type": "quantitative", "scale": {"domain": [-500, 3000], "nice": false, "zero": false}, "axis": {"orient": "right", "values": [-500,0,500,1000,1500,2000,2500,3000], "labels": false, "title": null}},
            "text": {"field": "t"}
          }
        }
      ]
    },
    {
      "width": 516, "height": 50,
      "view": {"stroke": null},
      "data": {"name": "caption"},
      "transform": [{"filter": "datum.c == 0"}],
      "encoding": {
        "x": {"field": "c", "type": "quantitative", "scale": {"domain": [0, 1], "nice": false, "zero": false}, "axis": null},
        "y": {"field": "l", "type": "quantitative", "scale": {"domain": [0, 2], "nice": false, "zero": false, "reverse": true}, "axis": null},
        "text": {"field": "t"}
      },
      "layer": [
        {"transform": [{"filter": "datum.w == 'b'"}], "mark": {"type": "text", "align": "left", "baseline": "middle", "fontSize": 18.5, "fontWeight": "bold", "color": "#1a1a1a", "dx": -86, "dy": -4}},
        {"transform": [{"filter": "datum.w == 'c'"}], "mark": {"type": "text", "align": "left", "baseline": "middle", "fontSize": 18.5, "color": "#333333", "dx": 349, "dy": -4}},
        {"transform": [{"filter": "datum.w == 'r'"}], "mark": {"type": "text", "align": "left", "baseline": "middle", "fontSize": 18.5, "color": "#333333", "dx": -86, "dy": -4}}
      ]
    },
    {
      "width": 516, "height": 50,
      "view": {"stroke": null},
      "data": {"name": "caption"},
      "transform": [{"filter": "datum.c == 1"}],
      "mark": {"type": "text", "align": "left", "baseline": "middle", "fontSize": 18.5, "color": "#333333", "dx": -82, "dy": -4},
      "encoding": {
        "x": {"field": "c", "type": "quantitative", "scale": {"domain": [1, 2], "nice": false, "zero": false}, "axis": null},
        "y": {"field": "l", "type": "quantitative", "scale": {"domain": [0, 2], "nice": false, "zero": false, "reverse": true}, "axis": null},
        "text": {"field": "t"}
      }
    }
  ]
}
